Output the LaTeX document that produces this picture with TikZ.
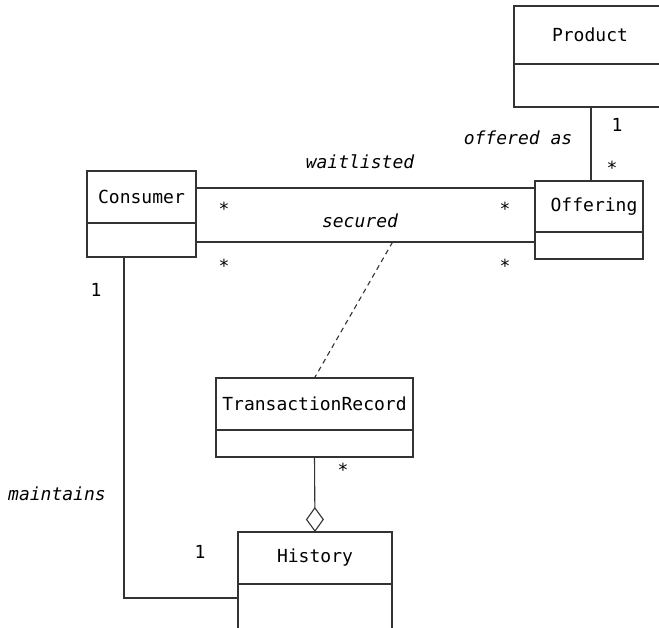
\documentclass[tikz,border=0pt]{standalone}
\usepackage{fontspec}
\setmonofont{DejaVu Sans Mono}
\usetikzlibrary{arrows.meta,positioning}

\begin{document}
\begin{tikzpicture}[
  x=1pt, y=-1pt,
  font=\ttfamily\fontsize{18}{21}\selectfont,
  cls/.style={draw=black!80, line width=1.1pt, inner sep=0pt, outer sep=0pt, minimum height=52pt},
  attr/.style={draw=black!80, line width=1.1pt, inner sep=0pt, outer sep=0pt},
  conn/.style={draw=black!80, line width=1.1pt},
  lbl/.style={font=\ttfamily\itshape\fontsize{18}{21}\selectfont},
  mult/.style={inner sep=0pt}
]
\useasboundingbox (0,0) rectangle (659,628);
\node[cls, minimum width=152pt, minimum height=58pt] (product) at (590,35) {Product};
\node[attr, minimum width=152pt, minimum height=43pt, below=0pt of product] (productA) {};
\node[cls, minimum width=108pt, minimum height=51pt] (offering) at (589,206.5) {\hspace{10pt}Offering};
\node[attr, minimum width=108pt, minimum height=27pt, below=0pt of offering] (offeringA) {};
\node[cls, minimum width=109pt] (consumer) at (141.5,197) {Consumer};
\node[attr, minimum width=109pt, minimum height=34pt, below=0pt of consumer] (consumerA) {};
\node[cls, minimum width=197pt] (trans) at (314.5,404) {TransactionRecord};
\node[attr, minimum width=197pt, minimum height=27pt, below=0pt of trans] (transA) {};
\node[cls, minimum width=154pt] (history) at (315,558) {History};
\node[attr, minimum width=154pt, minimum height=60pt, below=0pt of history] (historyA) {};
% associations
\draw[conn] ([xshift=1pt]productA.south) -- ([xshift=1pt]productA.south |- offering.north);
\coordinate (w1) at ([yshift=9pt]consumer.east);
\draw[conn] (w1) -- (w1 -| offering.west);
\coordinate (s1) at ([yshift=-2pt]consumerA.east);
\draw[conn] (s1) -- (s1 -| offering.west);
\path (s1) -- (s1 -| offering.west) coordinate[pos=0.58] (sd);
\draw[conn, dash pattern=on 5pt off 4pt] (sd) -- (trans.north);
\draw[conn, {Diamond[open, length=25pt, width=18pt]}-] (history.north) -- (transA.south);
\coordinate (m1) at ([xshift=-17.5pt]consumerA.south);
\draw[conn] (m1) |- ([yshift=16pt]historyA.west);
% labels
\node[lbl] at (518,138) {offered as};
\node[lbl] at (360,162) {waitlisted};
\node[lbl] at (360,221) {secured};
\node[lbl] at (57,494) {maintains};
\node[mult] at (617,125) {1};
\node[mult] at (612,168) {*};
\node[mult] at (224,209) {*};
\node[mult] at (505,209) {*};
\node[mult] at (224,266) {*};
\node[mult] at (505,266) {*};
\node[mult] at (96,290) {1};
\node[mult] at (200,552) {1};
\node[mult] at (343,470) {*};
\end{tikzpicture}
\end{document}
